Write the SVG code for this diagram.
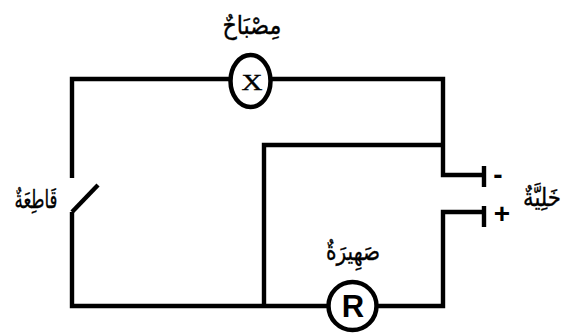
<svg xmlns="http://www.w3.org/2000/svg" width="576" height="336" viewBox="0 0 576 336">
<style>
.w{fill:none;stroke:#000;stroke-width:4.4;stroke-linejoin:miter;stroke-linecap:butt}
.n{fill:#fff;stroke:#000;stroke-width:4.5}
.ar{font-family:"DejaVu Sans",sans-serif;font-size:25px;fill:#000;stroke:#000;stroke-width:.35;text-anchor:middle}
.b{font-family:"Liberation Sans",sans-serif;font-weight:bold;fill:#000;text-anchor:middle}
</style>
<rect width="576" height="336" fill="#fff"/>
<g id="connectors">
<path class="w" d="M72 178V79H443V175H484M264 306V145H443M72 212V306H443V212H484"/>
<path class="w" d="M72 212L98 185" stroke-linecap="round"/>
<path class="w" d="M484 166V187M484 206V227"/>
</g>
<g id="lamp">
<ellipse class="n" cx="250.5" cy="81" rx="20" ry="26"/>
<text x="252" y="90" font-family="Liberation Serif,serif" font-size="23" text-anchor="middle" stroke="#000" stroke-width=".4" textLength="21" lengthAdjust="spacingAndGlyphs">X</text>
<text class="ar" x="252" y="34" direction="rtl" textLength="59" lengthAdjust="spacingAndGlyphs">مِصْبَاحٌ</text>
</g>
<g id="resistor">
<circle class="n" cx="352.5" cy="306" r="24"/>
<text class="b" x="353" y="317" font-size="31">R</text>
<text class="ar" x="353" y="260" direction="rtl" textLength="54" lengthAdjust="spacingAndGlyphs">صَهِيرَةٌ</text>
</g>
<g id="cell">
<text class="b" x="498" y="184" font-size="28">-</text>
<text class="b" x="502" y="223" font-size="28">+</text>
<text class="ar" x="542" y="206" direction="rtl" textLength="38" lengthAdjust="spacingAndGlyphs">خَلِيَّةٌ</text>
</g>
<g id="switch">
<text class="ar" x="36" y="208" direction="rtl" textLength="43" lengthAdjust="spacingAndGlyphs">قَاطِعَةٌ</text>
</g>
</svg>
